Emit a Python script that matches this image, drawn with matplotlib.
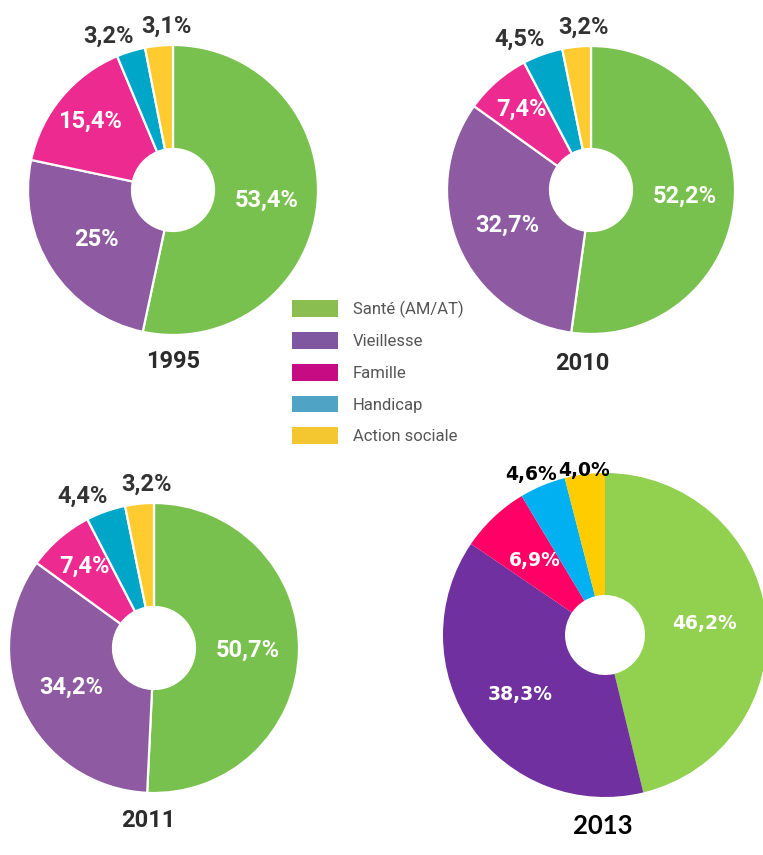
import matplotlib
matplotlib.use("Agg")
import matplotlib.pyplot as plt
from matplotlib.patches import Patch
import numpy as np

# ---------------- data ----------------
categories = ["Santé (AM/AT)", "Vieillesse", "Famille", "Handicap", "Action sociale"]
years = ["1995", "2010", "2011", "2013"]
values_1995 = [53.4, 25.0, 15.4, 3.2, 3.1]
values_2010 = [52.2, 32.7, 7.4, 4.5, 3.2]
values_2011 = [50.7, 34.2, 7.4, 4.4, 3.2]
values_2013 = [46.2, 38.3, 6.9, 4.6, 4.0]
labels_1995 = ["53,4%", "25%", "15,4%", "3,2%", "3,1%"]
labels_2010 = ["52,2%", "32,7%", "7,4%", "4,5%", "3,2%"]
labels_2011 = ["50,7%", "34,2%", "7,4%", "4,4%", "3,2%"]
labels_2013 = ["46,2%", "38,3%", "6,9%", "4,6%", "4,0%"]

# ---------------- styles ----------------
colors_std = ["#79C14E", "#8E5AA2", "#EC2A8F", "#00A6C8", "#FFCB2F"]
colors_2013 = ["#92D050", "#7030A0", "#FF0066", "#00B0F0", "#FFCC00"]
legend_colors = ["#8BBE50", "#7F56A0", "#C70C83", "#4FA3C4", "#F4C731"]

W, H = 763, 855
fig = plt.figure(figsize=(W / 100, H / 100), dpi=100)
ax = fig.add_axes([0, 0, 1, 1])

def Y(ypx):
    return H - ypx

# layout: center x, center y (px from top), radius, hole radius, title x, title y
layouts = [
    dict(cx=173, cy=190, r=145, hole=41, tx=173, ty=362, style="std"),
    dict(cx=591, cy=190, r=144, hole=41, tx=582, ty=363, style="std"),
    dict(cx=154, cy=648, r=145, hole=41, tx=148, ty=820, style="std"),
    dict(cx=605, cy=635, r=162, hole=40, tx=603, ty=826, style="new"),
]
all_values = [values_1995, values_2010, values_2011, values_2013]
all_labels = [labels_1995, labels_2010, labels_2011, labels_2013]

std_factors = [0.65, 0.63, 0.74, 1.13, 1.13]
std_nudge = [(0, 0), (0, 0), (0, 0), (-17, 3), (9, -1)]
new_factors = [0.62, 0.64, 0.63, 1.05, 1.05]
new_nudge = [(0, 0), (0, 0), (0, 0), (-8, -4), (0, 4)]

for vals, labs, lay, year in zip(all_values, all_labels, layouts, years):
    std = lay["style"] == "std"
    cols = colors_std if std else colors_2013
    cx, cy = lay["cx"], Y(lay["cy"])
    r = lay["r"]
    wedges, _ = ax.pie(
        vals, colors=cols, startangle=90, counterclock=False,
        radius=r, center=(cx, cy),
        wedgeprops=dict(width=r - lay["hole"],
                        edgecolor="white" if std else "none",
                        linewidth=1.6 if std else 0),
    )
    factors = std_factors if std else new_factors
    nudges = std_nudge if std else new_nudge
    for i, (w, lab) in enumerate(zip(wedges, labs)):
        th = np.deg2rad((w.theta1 + w.theta2) / 2)
        f = factors[i]
        x = cx + r * f * np.cos(th) + nudges[i][0]
        y = cy + r * f * np.sin(th) - nudges[i][1]
        outer = i >= 3
        if std:
            ax.text(x, y, lab, ha="center", va="center", fontsize=17,
                    family="Roboto", fontweight="bold",
                    color="#333333" if outer else "white")
        else:
            ax.text(x, y, lab, ha="center", va="center", fontsize=13.5,
                    family="DejaVu Sans", fontweight="bold",
                    color="black" if outer else "white")
    if std:
        ax.text(lay["tx"], Y(lay["ty"]), year, ha="center", va="center",
                fontsize=17, family="Roboto", fontweight="bold", color="#2b2b2b")
    else:
        ax.text(lay["tx"], Y(lay["ty"]), year, ha="center", va="center",
                fontsize=18.5, family="Lato", fontweight="bold", color="black")

ax.set_xlim(0, W)
ax.set_ylim(0, H)
ax.set_aspect("auto")
ax.axis("off")

handles = [Patch(facecolor=c, edgecolor="none") for c in legend_colors]
leg = fig.legend(handles, categories, loc="upper left",
                 bbox_to_anchor=(292 / W, 1 - 300 / H),
                 frameon=False, borderpad=0, borderaxespad=0,
                 prop=dict(family="Roboto", size=12),
                 handlelength=2.75, handleheight=1.15,
                 labelspacing=0.88, handletextpad=0.9)
for t in leg.get_texts():
    t.set_color("#555555")

fig.savefig("out.png", dpi=100, facecolor="white")
